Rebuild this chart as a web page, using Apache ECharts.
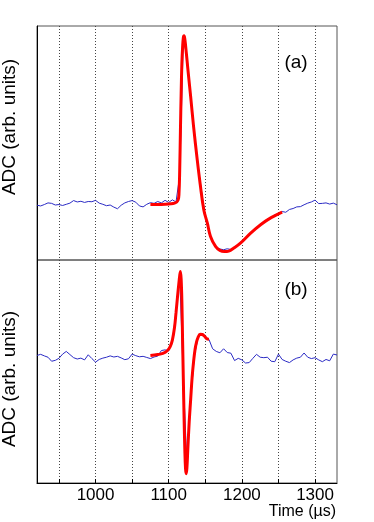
<!DOCTYPE html>
<html>
<head>
<meta charset="utf-8">
<script src="https://cdn.jsdelivr.net/npm/echarts@6/dist/echarts.min.js"></script>
<style>
  html, body { margin: 0; padding: 0; background: #fff; }
  #chart { width: 374px; height: 522px; }
</style>
</head>
<body>
<div id="chart"></div>
<script>
var sampleTimes = [920, 925, 930, 935, 940, 945, 950, 955, 960, 965, 970, 975, 980, 985, 990, 995,
  1000, 1005, 1010, 1015, 1020, 1025, 1030, 1035, 1040, 1045, 1050, 1055, 1060, 1065, 1070, 1075,
  1080, 1085, 1090, 1095, 1100, 1105, 1110, 1115, 1120, 1125, 1130, 1135, 1140, 1145, 1150, 1155,
  1160, 1165, 1170, 1175, 1180, 1185, 1190, 1195, 1200, 1205, 1210, 1215, 1220, 1225, 1230, 1235,
  1240, 1245, 1250, 1255, 1260, 1265, 1270, 1275, 1280, 1285, 1290, 1295, 1300, 1305, 1310, 1315,
  1320, 1325, 1330];

// panel (a): measured ADC trace
var traceA = [-0.6, -0.9, -0.3, 0.4, 0.2, -0.5, -0.3, -0.7, -0.2, 0.3, 1.4, 0.8, 1.1, 0.6, 1.0, 0.9,
  1.5, 0.3, -0.2, -0.8, -0.5, -1.4, -2.1, -0.6, 0.4, 1.0, 1.4, 0.7, -0.9, -1.3, -0.2, 0.5,
  0.2, 1.0, 0.4, 1.5, 0.6, 1.7, 0.8, 12.0, 70.5, 62.5, 46.0, 30.5, 16.5, 5.0, -5.5, -11.5,
  -16.0, -18.5, -19.3, -19.6, -19.2, -19.5, -18.9, -17.6, -15.8, -14.6, -12.8, -12.0, -10.2, -8.6, -8.0, -6.5,
  -6.2, -4.6, -4.4, -3.3, -3.6, -2.4, -2.0, -1.3, -1.2, -0.4, 0.3, 0.8, 1.6, 0.1, 0.2, 0.4,
  -0.1, 0.3, -0.4];

// panel (a): fit
var fitATimes = [1075, 1085, 1095, 1103, 1108, 1111, 1113, 1114, 1115, 1116, 1117, 1118, 1119, 1120,
  1121, 1122, 1123, 1125, 1127, 1130, 1134, 1139, 1143, 1148, 1153, 1157, 1164, 1170, 1176, 1182,
  1189, 1198, 1212, 1226, 1240, 1255];
var fitA = [-0.3, -0.3, -0.2, 0.0, 0.3, 0.8, 1.8, 4.0, 14.0, 31.0, 47.0, 60.0, 67.0, 71.0,
  71.8, 70.5, 67.8, 61.5, 55.0, 45.8, 33.0, 18.8, 8.5, -2.6, -8.5, -13.8, -18.2, -19.9, -20.4, -20.2,
  -18.9, -16.8, -12.5, -8.8, -5.9, -3.5];

// panel (b): measured ADC trace
var traceB = [-0.2, 0.3, -0.4, -1.0, -2.8, -2.4, -1.5, 0.4, 1.6, 0.2, -1.2, -1.8, -1.4, -2.2, 0.1, -1.6,
  -3.2, -2.0, -1.4, -1.0, -0.4, -0.9, -0.6, -1.3, -2.1, -1.7, 0.4, -0.3, -0.8, -0.6, -1.1, -1.6,
  -0.9, -0.5, 2.0, 2.3, 1.9, 6.5, 19.0, 36.0, -11.0, -50.0, -20.0, -0.5, 7.6, 9.6, 8.2, 7.0,
  2.8, 1.6, 1.0, 2.8, 1.1, 0.8, -2.5, -1.5, -2.2, -3.6, -3.4, -1.5, 0.3, -1.0, -1.2, -1.0,
  -2.8, -3.0, 0.4, -2.0, -2.8, -3.4, -2.2, -1.4, -1.0, 0.9, -1.0, -1.6, -1.2, -2.2, -3.0, -2.0,
  -2.6, 0.4, 0.0];

// panel (b): fit
var fitBTimes = [1075, 1085, 1092, 1098, 1102, 1105, 1108, 1110, 1112, 1114, 1115, 1116, 1117, 1118,
  1119, 1120, 1121, 1122, 1123, 1124, 1125, 1126, 1128, 1130, 1132, 1134, 1136, 1138, 1140, 1143,
  1146, 1149, 1152, 1155];
var fitB = [-0.2, 0.2, 0.7, 1.9, 3.8, 6.7, 12.5, 19.0, 26.0, 32.5, 35.5, 37.4, 34.0, 24.0,
  6.0, -11.0, -28.0, -42.0, -51.0, -53.2, -50.0, -43.0, -30.0, -20.0, -10.0, -3.0, 2.5, 5.8, 7.8, 9.3,
  9.2, 8.4, 7.3, 7.1];

var gridTicks = [950, 1000, 1050, 1100, 1150, 1200, 1250, 1300];
var labelTicks = [1000, 1100, 1200, 1300];

function pairs(xs, ys) {
  return xs.map(function (x, i) { return [x, ys[i]]; });
}

var FONT = "'Liberation Sans', Arial, sans-serif";
var dotted = { color: '#444', width: 1, type: [1, 2] };

var chart = echarts.init(document.getElementById('chart'), null, { renderer: 'canvas' });

chart.setOption({
  animation: false,
  grid: [
    { left: 37, right: 37, top: 26, height: 234, show: true, borderColor: '#555', borderWidth: 1 },
    { left: 37, right: 37, top: 260, height: 223, show: true, borderColor: '#555', borderWidth: 1 }
  ],
  xAxis: [
    {
      gridIndex: 0, type: 'value', min: 920, max: 1330,
      axisLine: { show: false },
      axisTick: { show: false, customValues: gridTicks },
      axisLabel: { show: false, customValues: gridTicks },
      splitLine: { show: true, lineStyle: dotted }
    },
    {
      gridIndex: 1, type: 'value', min: 920, max: 1330,
      axisLine: { show: true, onZero: false, lineStyle: { color: '#000', width: 1 } },
      axisTick: { show: true, inside: true, length: 4, customValues: gridTicks, lineStyle: { color: '#000' } },
      axisLabel: {
        customValues: labelTicks, color: '#000', fontSize: 17, fontFamily: FONT, margin: 4,
        formatter: function (v) { return String(v); }
      },
      splitLine: { show: true, lineStyle: dotted }
    }
  ],
  yAxis: [
    {
      gridIndex: 0, type: 'value', min: -24, max: 76,
      axisLine: { show: true, lineStyle: { color: '#000' } },
      axisTick: { show: false }, axisLabel: { show: false }, splitLine: { show: false }
    },
    {
      gridIndex: 1, type: 'value', min: -57.4, max: 42.6,
      axisLine: { show: true, lineStyle: { color: '#000' } },
      axisTick: { show: false }, axisLabel: { show: false }, splitLine: { show: false }
    }
  ],
  series: [
    {
      type: 'line', xAxisIndex: 0, yAxisIndex: 0, data: pairs(sampleTimes, traceA),
      showSymbol: false, lineStyle: { color: '#2a2ac4', width: 1 }, z: 2
    },
    {
      type: 'line', xAxisIndex: 0, yAxisIndex: 0, data: pairs(fitATimes, fitA),
      showSymbol: false, smooth: 0.4, lineStyle: { color: '#ff0000', width: 3 }, z: 3
    },
    {
      type: 'line', xAxisIndex: 1, yAxisIndex: 1, data: pairs(sampleTimes, traceB),
      showSymbol: false, lineStyle: { color: '#2a2ac4', width: 1 }, z: 2
    },
    {
      type: 'line', xAxisIndex: 1, yAxisIndex: 1, data: pairs(fitBTimes, fitB),
      showSymbol: false, smooth: 0.4, lineStyle: { color: '#ff0000', width: 3 }, z: 3
    }
  ],
  graphic: [
    { type: 'text', style: { x: 296, y: 63, text: '(a)', fill: '#000', font: '19px ' + FONT, align: 'center', verticalAlign: 'middle' } },
    { type: 'text', style: { x: 296, y: 290, text: '(b)', fill: '#000', font: '19px ' + FONT, align: 'center', verticalAlign: 'middle' } },
    { type: 'text', style: { x: 336, y: 512, text: 'Time (µs)', fill: '#000', font: '16px ' + FONT, align: 'right', verticalAlign: 'middle' } },
    { type: 'text', x: 10, y: 127, rotation: Math.PI / 2, style: { x: 0, y: 0, text: 'ADC (arb. units)', fill: '#000', font: '19px ' + FONT, align: 'center', verticalAlign: 'middle' } },
    { type: 'text', x: 10, y: 379, rotation: Math.PI / 2, style: { x: 0, y: 0, text: 'ADC (arb. units)', fill: '#000', font: '19px ' + FONT, align: 'center', verticalAlign: 'middle' } }
  ]
});
</script>
</body>
</html>
